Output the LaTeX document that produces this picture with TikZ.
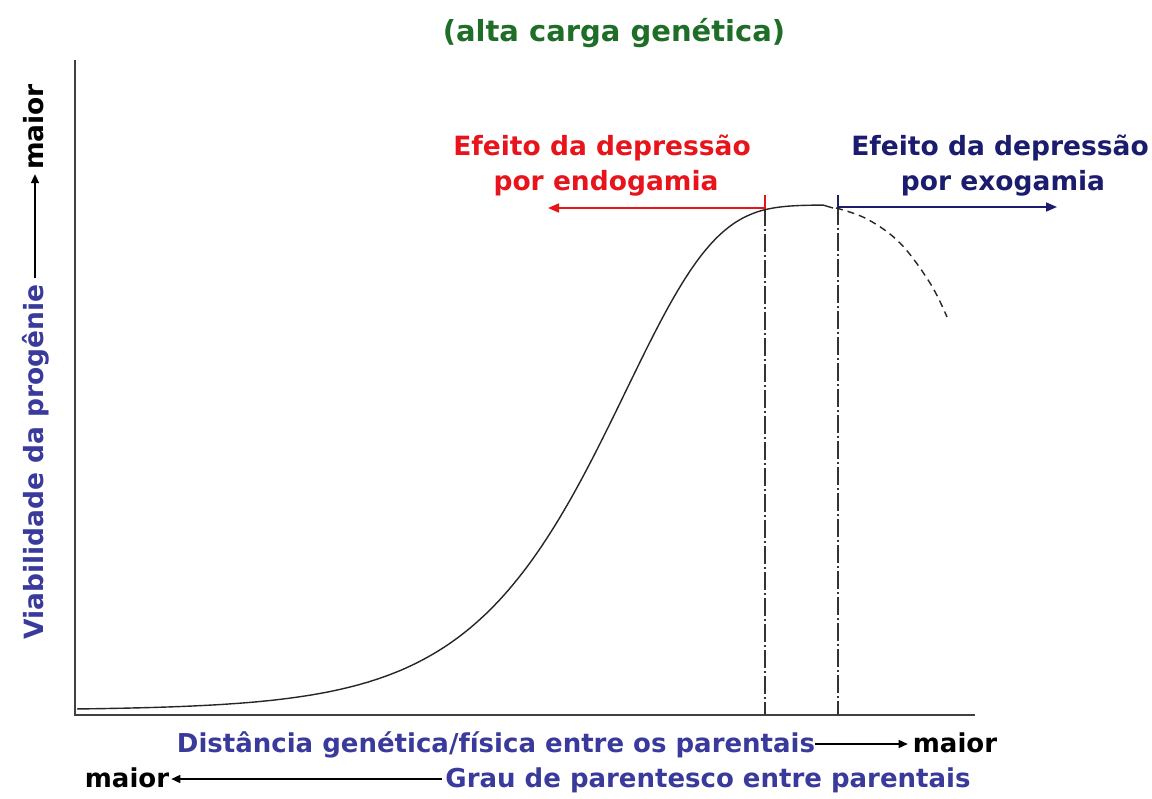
\documentclass[tikz,border=0pt]{standalone}
\usepackage{fontspec}
\setmainfont{DejaVu Sans}
\usetikzlibrary{arrows.meta}
\definecolor{tgreen}{HTML}{1E6E28}
\definecolor{tred}{HTML}{E8141C}
\definecolor{tnavy}{HTML}{1C1C6E}
\definecolor{tblue}{HTML}{3A3A9C}
\definecolor{taxis}{HTML}{404040}
\begin{document}
\begin{tikzpicture}[x=1pt,y=-1pt,
  lbl/.style={font=\bfseries\fontsize{26.5}{32}\selectfont, inner sep=0pt, align=center},
  lblb/.style={lbl, font=\bfseries\fontsize{26}{32}\selectfont},
  axisline/.style={taxis, line width=2pt},
  guide/.style={black!80, line width=1.2pt, dash pattern=on 18pt off 3pt on 2pt off 3pt},
  curveline/.style={black!85, line width=1.4pt},
  tipA/.style={-{Triangle[length=11pt,width=9pt]}},
  tipB/.style={-{Triangle[length=9pt,width=8pt]}}
]
\useasboundingbox (0,0) rectangle (1152,799);
\fill[white] (0,0) rectangle (1152,799);

% title
\node[lbl, tgreen, font=\bfseries\fontsize{29}{32}\selectfont] (title) at (614,33) {(alta carga genética)};

% axes
\coordinate (ytop) at (75,60);
\coordinate (orig) at (75,715);
\coordinate (xend) at (975,715);
\draw[axisline] (ytop) -- (orig) -- (xend);

% guides
\coordinate (rt) at (765,195);
\coordinate (rc) at (765,208);
\coordinate (rb) at (765,715);
\coordinate (rl) at (548,208);
\coordinate (bt) at (838,195);
\coordinate (bc) at (838,207);
\coordinate (bb) at (838,715);
\coordinate (br) at (1057,207);
\draw[guide] (rc) -- (rb);
\draw[guide] (bc) -- (bb);
\draw[tred, line width=1.6pt, tipA] (rt) -- (rc) -- (rl);
\draw[tnavy, line width=1.6pt, tipA] (bt) -- (bc) -- (br);

% curve
\coordinate (c4) at (833,208);
\draw[curveline] plot[domain=77:823, samples=160]
  (\x, {710-505*(1-exp(-exp(-0.732+0.0111*(\x-560))))}) -- (c4);
\draw[curveline, dash pattern=on 7pt off 5pt] plot[smooth, tension=0.6] coordinates {
 (836,208) (867,219) (900,243) (930,283) (947,317)};

% labels top
\node[lbl, tred] (red1) at (602,148) {Efeito da depressão};
\node[lbl, tred] (red2) at (606,183) {por endogamia};
\node[lbl, tnavy] (blue1) at (1000,148) {Efeito da depressão};
\node[lbl, tnavy] (blue2) at (1003,183) {por exogamia};

% bottom labels
\node[lblb, tblue, anchor=base] (dist) at (496,752) {Distância genética/física entre os parentais};
\node[lblb, black, anchor=base] (maior1) at (955,752) {maior};
\draw[black, line width=1.6pt, tipB] ([yshift=8pt]dist.base east) -- ([xshift=-5pt,yshift=8pt]maior1.base west);
\node[lblb, tblue, anchor=base] (grau) at (708,787) {Grau de parentesco entre parentais};
\node[lblb, black, anchor=base] (maior2) at (127,787) {maior};
\draw[black, line width=1.6pt, tipB] ([xshift=-3pt,yshift=8pt]grau.base west) -- ([xshift=2pt,yshift=8pt]maior2.base east);

% left labels
\node[lbl, tblue, rotate=90, anchor=base] (viab) at (43,462) {Viabilidade da progênie};
\node[lbl, black, rotate=90, anchor=base] (maior3) at (43,127) {maior};
\draw[black, line width=1.6pt, tipB] ([xshift=-8pt,yshift=6pt]viab.base east) -- ([xshift=-8pt,yshift=-4pt]maior3.base west);
\end{tikzpicture}
\end{document}
